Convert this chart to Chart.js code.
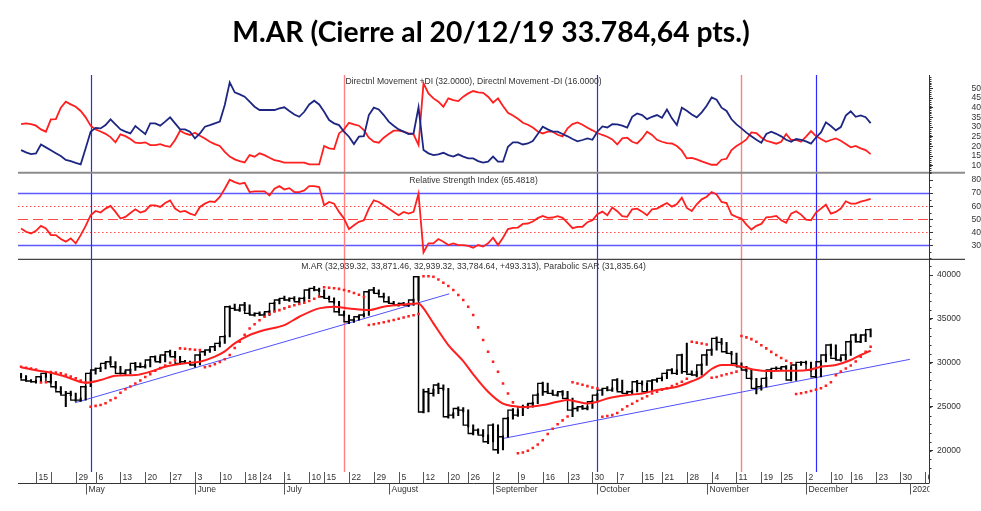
<!DOCTYPE html>
<html>
<head>
<meta charset="utf-8">
<script src="https://cdn.jsdelivr.net/npm/chart.js@4.4.1/dist/chart.umd.min.js"></script>
<style>
  html, body { margin: 0; padding: 0; background: #fff; }
</style>
</head>
<body>
<canvas id="chart" width="981" height="511"></canvas>
<script>
// Trading days on the time axis (the last ones are the empty space at the right)
const tradingMonths = [
  ['2019-04', [10, 11, 12, 15, 16, 17, 22, 23, 24, 25, 26, 29, 30]],
  ['2019-05', [2, 3, 6, 7, 8, 9, 10, 13, 14, 15, 16, 17, 20, 21, 22, 23, 24, 27, 28, 29, 30, 31]],
  ['2019-06', [3, 4, 5, 6, 7, 10, 11, 12, 13, 14, 18, 19, 21, 24, 25, 26, 27, 28]],
  ['2019-07', [1, 2, 3, 4, 5, 10, 11, 12, 15, 16, 17, 18, 19, 22, 23, 24, 25, 26, 29, 30, 31]],
  ['2019-08', [1, 2, 5, 6, 7, 8, 9, 12, 13, 14, 15, 16, 20, 21, 22, 23, 26, 27, 28, 29, 30]],
  ['2019-09', [2, 3, 4, 5, 6, 9, 10, 11, 12, 13, 16, 17, 18, 19, 20, 23, 24, 25, 26, 27, 30]],
  ['2019-10', [1, 2, 3, 4, 7, 8, 9, 10, 11, 15, 16, 17, 18, 21, 22, 23, 24, 25, 28, 29, 30, 31]],
  ['2019-11', [1, 4, 5, 6, 7, 8, 11, 12, 13, 14, 15, 19, 20, 21, 22, 25, 26, 27, 28, 29]],
  ['2019-12', [2, 3, 4, 5, 6, 10, 11, 12, 13, 16, 17, 18, 19, 20, 23, 24, 25, 26, 27, 30, 31]],
  ['2020-01', [1, 2, 3, 6]]
];

// week ticks (date, label) and month ticks
const weekTicks = [
  ['2019-04-15', '15'], ['2019-04-22', ''], ['2019-04-29', '29'], ['2019-05-06', '6'], ['2019-05-13', '13'],
  ['2019-05-20', '20'], ['2019-05-27', '27'], ['2019-06-03', '3'], ['2019-06-10', '10'], ['2019-06-18', '18'],
  ['2019-06-24', '24'], ['2019-07-01', '1'], ['2019-07-10', '10'], ['2019-07-15', '15'], ['2019-07-22', '22'],
  ['2019-07-29', '29'], ['2019-08-05', '5'], ['2019-08-12', '12'], ['2019-08-20', '20'], ['2019-08-26', '26'],
  ['2019-09-02', '2'], ['2019-09-09', '9'], ['2019-09-16', '16'], ['2019-09-23', '23'], ['2019-09-30', '30'],
  ['2019-10-07', '7'], ['2019-10-15', '15'], ['2019-10-21', '21'], ['2019-10-28', '28'], ['2019-11-04', '4'],
  ['2019-11-11', '11'], ['2019-11-19', '19'], ['2019-11-25', '25'], ['2019-12-02', '2'], ['2019-12-10', '10'],
  ['2019-12-16', '16'], ['2019-12-23', '23'], ['2019-12-30', '30'], ['2020-01-06', '6']
];
const monthTicks = [
  ['2019-05-02', 'May'], ['2019-06-03', 'June'], ['2019-07-01', 'July'], ['2019-08-01', 'August'],
  ['2019-09-02', 'September'], ['2019-10-01', 'October'], ['2019-11-01', 'November'],
  ['2019-12-02', 'December'], ['2020-01-01', '2020']
];

// daily values, one per trading day from 2019-04-10 to 2019-12-20
const closes = [
  28530, 28040, 27930, 27850, 28420, 28800, 27850, 27280, 26710, 26330,
  26520, 25760, 25760, 27280, 28800, 29180, 29370, 29940, 30130, 29560,
  28800, 28800, 29180, 29940, 29560, 29560, 30320, 30700, 30130, 30890,
  31270, 30700, 29940, 30130, 29940, 29750, 30890, 31270, 31460, 31840,
  32220, 32980, 36390, 36200, 36010, 36580, 35630, 35440, 35630, 35440,
  35820, 36770, 37150, 37340, 37150, 37340, 36960, 37340, 38290, 38480,
  38290, 37530, 37340, 36960, 35820, 35440, 34680, 34870, 35250, 35440,
  38100, 38290, 37910, 37530, 36960, 36770, 36580, 36770, 36580, 37150,
  39810, 24400, 26710, 26520, 27470, 27090, 23860, 24050, 24810, 24620,
  22910, 21960, 22340, 21770, 21020, 22910, 20100, 21580, 23670, 24620,
  24050, 25000, 25000, 25380, 26330, 27660, 26710, 26520, 26330, 26710,
  25950, 24620, 24810, 25000, 24810, 25570, 26330, 26900, 27090, 26900,
  28040, 26710, 26520, 26710, 27850, 27660, 26710, 27930, 28040, 28230,
  28800, 29180, 28800, 30890, 29000, 28700, 28610, 29750, 30890, 31460,
  32790, 32330, 31270, 31080, 29940, 29560, 29180, 28230, 27090, 27280,
  28230, 29180, 29370, 29370, 29560, 28040, 29750, 30050, 30050, 29180,
  28420, 30130, 30890, 32030, 30510, 30320, 30890, 32410, 33170, 32410,
  33170, 33785
];
const lows = [
  28300, 27900, 27800, 27700, 27850, 28350, 27700, 27100, 26500, 25000,
  26250, 25600, 25600, 25750, 27300, 28700, 29000, 29300, 29800, 29400,
  28700, 28650, 28750, 29150, 29450, 29400, 29550, 30250, 30000, 30100,
  30850, 30600, 29800, 29900, 29800, 29500, 29750, 30850, 31200, 31400,
  31800, 32200, 32950, 36000, 35850, 35950, 35500, 35300, 35400, 35300,
  35400, 35800, 36700, 37100, 37000, 37100, 36850, 36950, 37300, 38200,
  38100, 37400, 37200, 36800, 35700, 35300, 34450, 34600, 34850, 35200,
  35400, 38000, 37800, 37400, 36800, 36600, 36450, 36500, 36400, 36550,
  37100, 24300, 24400, 26200, 26500, 26900, 23700, 23700, 24000, 24400,
  22700, 21800, 21900, 21600, 20800, 21000, 19690, 20100, 21550, 23600,
  23900, 24000, 24800, 24950, 25350, 26300, 26500, 26350, 26200, 26300,
  25800, 23860, 24500, 24700, 24650, 24800, 25550, 26300, 26800, 26750,
  26900, 26600, 26400, 26500, 26700, 27500, 26600, 26700, 27800, 27950,
  28200, 28750, 28650, 28800, 28900, 28600, 28400, 28600, 29700, 30850,
  31450, 32100, 31100, 30900, 29800, 29400, 29000, 28100, 26450, 26900,
  27250, 28200, 29100, 29150, 29300, 27950, 28000, 29700, 29850, 29050,
  28300, 28400, 30100, 30850, 30400, 30200, 30300, 30850, 32350, 32300,
  32400, 32939
];
const highs = [
  28800, 28550, 28100, 28050, 28500, 28900, 28800, 27900, 27300, 26750,
  26800, 26550, 26000, 27350, 28900, 29400, 29500, 30100, 30700, 30150,
  29600, 29050, 29300, 30050, 30000, 29800, 30400, 30800, 30700, 31000,
  31460, 31300, 30750, 30300, 30200, 30000, 31000, 31400, 31600, 31950,
  32400, 33100, 36500, 36700, 36300, 36900, 36600, 35700, 35800, 35700,
  35950, 36900, 37300, 37600, 37400, 37550, 37400, 37500, 38400, 38700,
  38500, 38300, 37600, 37400, 37000, 35900, 35450, 35000, 35350, 35600,
  38200, 38600, 38300, 37950, 37550, 37000, 36800, 36900, 36800, 37250,
  39850, 27000, 27100, 27000, 27700, 27500, 27100, 24300, 25000, 24900,
  24650, 22950, 22500, 22400, 21800, 23050, 22950, 21700, 23800, 24800,
  24650, 25200, 25300, 25500, 26500, 27800, 27700, 26900, 26600, 26850,
  26750, 26000, 25000, 25150, 25050, 25700, 26500, 27050, 27300, 27150,
  28200, 28050, 26800, 26900, 28000, 27950, 27700, 28050, 28200, 28400,
  28950, 29350, 29200, 31000, 32250, 29100, 29050, 29900, 31000, 31600,
  32950, 32800, 32350, 31300, 31100, 30000, 29600, 29200, 28250, 27450,
  28350, 29300, 29550, 29500, 29700, 29550, 29850, 30150, 30200, 30100,
  29200, 30250, 31000, 32150, 32050, 30600, 31000, 32500, 33300, 33200,
  33300, 33871
];
const sar = [
  29560, 29450, 29350, 29250, 27770, 27800, 28950, 28900, 28800, 28650,
  28450, 28250, 28000, 27750, 25000, 25100, 25200, 25400, 25750, 26000,
  26600, 27000, 27300, 27650, 28000, 28400, 28700, 29100, 29400, 29700,
  30000, 30300, 31650, 31600, 31550, 31500, 31450, 29500, 29650, 29850,
  30100, 30400, 30900, 31700, 32400, 33200, 33900, 34400, 34850, 35250,
  35550, 35850, 36000, 36200, 36400, 36550, 36700, 36850, 37050, 37300,
  37550, 38600, 38560, 38500, 38420, 38300, 38150, 37950, 37750, 37500,
  34300, 34400, 34500, 34620, 34750, 34880, 35020, 35160, 35300, 35420,
  35550, 39850, 39850, 39800, 39500, 39130, 38750, 38290, 37720, 37150,
  36390, 35440, 34040, 32600, 31270, 30130, 28990, 27660, 26520, 25500,
  19700, 19800, 20000, 20300, 20700, 21200, 21900, 22500, 23000, 23450,
  23900, 27800, 27650, 27500, 27350, 27200, 27080, 23870, 23950, 24050,
  24300, 24700, 25050, 25350, 25650, 25950, 26200, 26500, 26700, 26950,
  27100, 27350, 27600, 27850, 28200, 32400, 32300, 32200, 32100, 28300,
  28400, 28550, 28700, 28850, 29000, 33050, 32900, 32700, 32400, 32000,
  31650, 31250, 30900, 30550, 30250, 29950, 26450, 26550, 26650, 26800,
  26950, 27100, 27400, 27800, 28600, 29000, 29350, 29700, 30150, 30700,
  31250, 31836
];
const plusDI = [
  18.1, 16.9, 16.0, 16.4, 21.0, 19.5, 18.0, 16.5, 15.0, 13.0,
  12.4, 11.5, 10.7, 19.0, 27.6, 29.6, 29.3, 31.0, 34.0, 31.4,
  28.8, 27.6, 26.7, 30.5, 28.4, 26.4, 31.9, 31.9, 30.7, 32.8,
  35.0, 31.9, 28.8, 28.8, 27.6, 24.1, 26.7, 30.2, 31.0, 31.9,
  32.8, 41.4, 53.1, 47.9, 46.9, 45.7, 43.1, 40.5, 38.8, 38.8,
  38.8, 38.8, 39.6, 40.2, 38.3, 36.5, 35.3, 37.9, 41.7, 43.6,
  41.7, 37.9, 33.6, 31.9, 31.0, 27.6, 25.0, 21.2, 25.0, 25.3,
  36.2, 40.0, 39.1, 36.2, 32.8, 30.7, 28.8, 27.6, 26.4, 26.7,
  40.2, 18.1, 16.4, 15.5, 15.9, 16.7, 15.5, 14.7, 15.9, 14.7,
  13.8, 13.8, 12.4, 11.6, 12.1, 14.7, 12.1, 12.1, 19.8, 22.1,
  22.1, 21.0, 21.5, 22.8, 26.4, 30.2, 28.8, 27.6, 27.6, 26.4,
  25.2, 23.8, 22.6, 23.3, 24.1, 23.4, 27.6, 30.3, 29.8, 31.5,
  31.4, 30.7, 29.7, 35.3, 37.0, 36.2, 34.1, 35.3, 36.2, 34.8,
  39.1, 34.5, 31.0, 40.0, 38.4, 36.5, 35.0, 37.6, 41.0, 45.3,
  44.1, 40.0, 38.3, 34.0, 31.4, 29.3, 27.1, 25.2, 23.4, 21.9,
  26.4, 27.6, 26.5, 25.2, 23.4, 22.4, 23.8, 23.4, 22.6, 21.4,
  24.6, 27.2, 32.4, 30.5, 28.3, 30.0, 35.9, 38.1, 35.3, 36.0,
  35.1, 32.0
];
const minusDI = [
  31.5, 31.9, 31.5, 30.7, 28.8, 27.6, 34.0, 34.1, 40.0, 43.1,
  41.7, 40.5, 38.3, 35.0, 30.7, 28.8, 27.7, 26.5, 24.8, 22.1,
  26.2, 25.3, 23.8, 21.9, 21.7, 22.1, 20.7, 20.7, 21.2, 20.3,
  19.8, 23.3, 28.1, 26.7, 25.9, 27.1, 25.5, 24.1, 22.4, 21.2,
  20.2, 17.2, 14.7, 13.3, 12.4, 11.7, 15.5, 14.7, 16.4, 15.5,
  14.1, 12.9, 12.4, 11.6, 11.6, 11.6, 11.6, 11.6, 10.7, 10.7,
  10.7, 20.2, 19.0, 18.6, 26.7, 28.8, 32.2, 31.4, 30.7, 28.4,
  24.5, 22.4, 21.9, 24.5, 26.4, 28.1, 28.1, 27.6, 26.7, 26.2,
  20.7, 52.6, 47.4, 44.8, 43.1, 40.5, 44.8, 43.9, 43.4, 45.7,
  47.4, 48.6, 47.9, 47.7, 45.7, 42.6, 44.8, 40.9, 37.4, 36.0,
  34.3, 32.2, 31.2, 29.8, 27.7, 26.7, 27.6, 27.6, 26.0, 25.2,
  29.3, 31.5, 32.4, 31.2, 29.6, 28.3, 26.9, 25.9, 25.0, 23.6,
  21.0, 24.1, 24.5, 22.4, 21.5, 24.1, 27.6, 25.9, 23.4, 22.4,
  21.7, 21.5, 20.2, 17.8, 13.8, 14.1, 13.3, 12.3, 11.4, 10.5,
  10.5, 13.1, 13.6, 18.1, 20.2, 21.7, 23.6, 27.2, 26.9, 24.6,
  22.9, 22.2, 21.4, 22.4, 26.4, 23.3, 23.4, 22.4, 25.0, 27.9,
  25.3, 23.8, 22.4, 23.3, 24.1, 22.9, 21.2, 19.5, 20.2, 19.0,
  18.1, 16.0
];
const rsi = [
  42.9, 40.4, 39.1, 41.1, 44.9, 42.9, 37.8, 37.8, 34.8, 32.8,
  35.3, 31.5, 37.8, 44.9, 53.0, 56.3, 55.1, 58.1, 60.1, 55.6,
  50.5, 51.8, 54.8, 57.6, 55.1, 56.3, 60.6, 60.6, 59.4, 62.4,
  64.4, 58.1, 55.6, 56.3, 54.3, 53.0, 59.4, 61.9, 63.7, 63.2,
  67.0, 73.3, 80.2, 78.4, 77.1, 77.9, 70.8, 71.3, 71.3, 71.3,
  68.2, 73.3, 75.3, 72.8, 73.8, 70.8, 70.8, 72.0, 75.3, 75.3,
  74.6, 60.6, 63.2, 61.9, 55.6, 50.5, 42.4, 45.4, 48.0, 49.2,
  58.1, 64.4, 63.2, 60.6, 58.1, 55.6, 53.0, 55.6, 54.3, 55.6,
  69.5, 24.6, 31.5, 31.5, 34.8, 32.8, 30.2, 31.5, 30.2, 30.2,
  29.5, 28.2, 30.2, 29.0, 31.5, 35.8, 30.2, 35.8, 42.4, 43.4,
  43.6, 46.4, 46.7, 48.2, 50.8, 52.5, 51.0, 51.3, 52.3, 51.0,
  47.2, 43.1, 44.2, 44.2, 47.7, 49.2, 53.8, 55.8, 53.0, 58.9,
  56.1, 52.3, 51.8, 57.6, 58.1, 55.8, 53.0, 57.6, 58.1, 60.4,
  62.4, 59.6, 61.6, 66.5, 58.6, 56.3, 61.4, 65.2, 67.2, 70.8,
  69.0, 63.2, 62.4, 53.5, 51.8, 50.5, 45.9, 42.1, 44.9, 46.4,
  51.5, 51.8, 52.5, 49.2, 47.2, 54.3, 56.1, 53.5, 49.7, 49.2,
  55.1, 58.1, 61.1, 54.3, 55.6, 58.1, 63.7, 61.9, 61.9, 63.4,
  64.4, 65.5
];

// moving average, read at a number of trading days (day number, value)
const maDays = [0, 3, 6, 9, 13, 16, 19, 23, 26, 29, 33, 36, 39, 41, 43, 46, 49, 53, 56, 60,
  63, 66, 70, 73, 76, 80, 81, 83, 86, 89, 91, 94, 97, 99, 101, 105, 108, 110, 112, 114,
  116, 118, 122, 125, 128, 132, 135, 137, 139, 141, 143, 145, 148, 150, 153, 156, 159, 161, 164, 167,
  169, 171];
const maValues = [29500, 29150, 28880, 28420, 27740, 28040, 28530, 28610, 28990, 29560, 29940, 30130, 30700, 31300, 32220, 33170, 33740, 34300, 35250, 36200,
  36390, 36200, 36010, 36390, 36580, 36770, 36200, 34500, 32030, 30200, 28700, 26710, 25350, 25080, 24950, 25190, 25570, 25760, 25570, 25380,
  25570, 25950, 26330, 26520, 26900, 27280, 27900, 28400, 29300, 29750, 29750, 29560, 29180, 29065, 29100, 29100, 29255, 29560, 29750, 30320,
  30890, 31380];

// trend lines: [day number, value] at each end
const trendLines = [
  [[10.85, 25455], [86.2, 37860]],
  [[97.1, 21400], [178.9, 30398]]
];

// vertical event markers
const markerDates = ['2019-05-03', '2019-07-19', '2019-10-01', '2019-11-12', '2019-12-04'];
const markerKinds = ['blue', 'red', 'blue', 'red', 'blue'];

const rsiLevels = [70, 60, 50, 40, 30];
const dmiTicks = [10, 15, 20, 25, 30, 35, 40, 45, 50];
const rsiTicks = [30, 40, 50, 60, 70, 80];
const priceTicks = [20000, 25000, 30000, 35000, 40000];

const titleText = 'M.AR (Cierre al 20/12/19 33.784,64 pts.)';
const dmiTitle = 'Directnl Movement +DI (32.0000), Directnl Movement -DI (16.0000)';
const rsiTitle = 'Relative Strength Index (65.4818)';
const priceTitle = 'M.AR (32,939.32, 33,871.46, 32,939.32, 33,784.64, +493.313), Parabolic SAR (31,835.64)';

// ---------------------------------------------------------------

const days = [];
tradingMonths.forEach(([ym, list]) => list.forEach(d => days.push(ym + '-' + String(d).padStart(2, '0'))));
const dayIndex = date => days.indexOf(date);

const xy = arr => arr.map((v, i) => ({ x: i, y: v }));
const SMALL_FONT = '8.6px "Liberation Sans", Arial, sans-serif';
const RED = '#ff1f1f';

function seg(ctx, x1, y1, x2, y2) {
  ctx.beginPath();
  ctx.moveTo(x1, y1);
  ctx.lineTo(x2, y2);
  ctx.stroke();
}

const decor = {
  id: 'decor',
  beforeDatasetsDraw(chart) {
    const { ctx, chartArea: area, scales } = chart;
    ctx.save();
    // RSI reference levels
    rsiLevels.forEach(v => {
      const y = Math.round(scales.yRsi.getPixelForValue(v)) + 0.5;
      if (v === 70 || v === 30) {
        ctx.strokeStyle = '#5a5aff'; ctx.lineWidth = 1.3; ctx.setLineDash([]);
      } else if (v === 50) {
        ctx.strokeStyle = '#ff4a4a'; ctx.lineWidth = 1; ctx.setLineDash([10, 5]);
      } else {
        ctx.strokeStyle = '#ff4a4a'; ctx.lineWidth = 1; ctx.setLineDash([1.5, 2.5]);
      }
      seg(ctx, area.left, y, area.right, y);
    });
    ctx.setLineDash([]);
    // event markers
    markerDates.forEach((d, k) => {
      const px = Math.round(scales.x.getPixelForValue(dayIndex(d))) + 0.5;
      ctx.strokeStyle = markerKinds[k] === 'red' ? '#ff8080' : '#2a2aff';
      ctx.lineWidth = markerKinds[k] === 'red' ? 1.4 : 1.2;
      seg(ctx, px, area.top, px, area.bottom);
    });
    ctx.restore();
  },
  afterDraw(chart) {
    const { ctx, chartArea: area, scales } = chart;
    const { x, yDmi, yRsi, yPrice } = scales;
    const axisY = area.bottom + 11.5;
    ctx.save();

    // panel separators
    ctx.strokeStyle = '#8c8c8c'; ctx.lineWidth = 2;
    seg(ctx, area.left, yRsi.top, 965, yRsi.top);
    ctx.strokeStyle = '#444'; ctx.lineWidth = 1.2;
    seg(ctx, area.left, yPrice.top, 965, yPrice.top);
    // right axis line and bottom time axis
    ctx.strokeStyle = '#333'; ctx.lineWidth = 1;
    seg(ctx, area.right + 0.5, area.top, area.right + 0.5, axisY);
    seg(ctx, area.left, axisY, area.right, axisY);

    // minor ticks on the right axis
    const minor = (scale, from, to, step) => {
      for (let v = from; v <= to; v += step) {
        const y = Math.round(scale.getPixelForValue(v)) + 0.5;
        seg(ctx, area.right, y, area.right + 2.5, y);
      }
    };
    minor(yDmi, 7, 56, 1);
    minor(yRsi, 20, 85, 5);
    minor(yPrice, 18000, 41000, 1000);

    // panel captions
    ctx.fillStyle = '#333';
    ctx.font = SMALL_FONT;
    ctx.textAlign = 'center';
    ctx.textBaseline = 'middle';
    const cx = (area.left + area.right) / 2;
    ctx.fillText(dmiTitle, cx, yDmi.top + 7);
    ctx.fillText(rsiTitle, cx, yRsi.top + 7.5);
    ctx.fillText(priceTitle, cx, yPrice.top + 7.5);

    // time axis labels (clipped at the right axis)
    ctx.save();
    ctx.beginPath();
    ctx.rect(0, 0, area.right + 0.5, chart.height);
    ctx.clip();
    ctx.textAlign = 'left';
    ctx.strokeStyle = '#555';
    weekTicks.forEach(([date, label]) => {
      const px = Math.round(x.getPixelForValue(dayIndex(date))) + 0.5;
      seg(ctx, px, area.bottom, px, axisY);
      ctx.fillText(label, px + 2, area.bottom + 6);
    });
    monthTicks.forEach(([date, label]) => {
      const px = Math.round(x.getPixelForValue(dayIndex(date))) + 0.5;
      seg(ctx, px, axisY, px, axisY + 11);
      ctx.fillText(label, px + 2, axisY + 6.5);
    });
    ctx.restore();

    // main title, sized to the width of the original
    ctx.font = 'bold 100px Lato, sans-serif';
    const size = 100 * 518 / ctx.measureText(titleText).width;
    ctx.font = 'bold ' + size.toFixed(1) + 'px Lato, sans-serif';
    ctx.fillStyle = '#000';
    ctx.textAlign = 'center';
    ctx.fillText(titleText, 491, 33);
    ctx.restore();
  }
};

const axisFont = { family: '"Liberation Sans", Arial', size: 8.6 };
const rightAxis = (opts) => Object.assign({
  type: 'linear',
  position: 'right',
  stack: 'panels',
  border: { display: false },
  grid: { drawOnChartArea: false, drawTicks: true, tickLength: 4, color: '#333' },
  afterFit: scale => { scale.width = 52; }
}, opts);

new Chart(document.getElementById('chart'), {
  type: 'line',
  data: {
    datasets: [
      {
        label: 'Parabolic SAR', data: xy(sar), yAxisID: 'yPrice', showLine: false,
        pointStyle: 'rect', pointRadius: 1.8, pointBackgroundColor: RED, pointBorderWidth: 0
      },
      {
        label: 'Media', data: maDays.map((d, k) => ({ x: d, y: maValues[k] })), yAxisID: 'yPrice',
        borderColor: RED, borderWidth: 2, pointRadius: 0, cubicInterpolationMode: 'monotone'
      },
      {
        label: 'Cierre', data: xy(closes), yAxisID: 'yPrice', stepped: 'after',
        borderColor: '#000', borderWidth: 1.4, pointRadius: 0
      },
      {
        type: 'bar', label: 'Rango', data: lows.map((l, i) => ({ x: i, y: [l, highs[i]] })), yAxisID: 'yPrice',
        backgroundColor: '#000', barThickness: 1.4, borderWidth: 0
      },
      ...trendLines.map((t, k) => ({
        label: 'Tendencia ' + (k + 1), data: t.map(([d, v]) => ({ x: d, y: v })), yAxisID: 'yPrice',
        borderColor: '#5050ff', borderWidth: 1, pointRadius: 0
      })),
      {
        label: '+DI', data: xy(plusDI), yAxisID: 'yDmi',
        borderColor: '#1d2682', borderWidth: 1.8, pointRadius: 0
      },
      {
        label: '-DI', data: xy(minusDI), yAxisID: 'yDmi',
        borderColor: RED, borderWidth: 1.8, pointRadius: 0
      },
      {
        label: 'RSI', data: xy(rsi), yAxisID: 'yRsi',
        borderColor: RED, borderWidth: 1.8, pointRadius: 0
      }
    ]
  },
  options: {
    responsive: false,
    animation: false,
    events: [],
    layout: { padding: { left: 18, right: 0, top: 75, bottom: 39 } },
    plugins: { legend: { display: false }, tooltip: { enabled: false }, title: { display: false } },
    scales: {
      x: { type: 'linear', min: -0.62, max: 182.75, offset: false, grid: { offset: false }, display: false },
      yDmi: rightAxis({
        stackWeight: 97.7, min: 6.4, max: 56.9,
        afterBuildTicks: s => { s.ticks = dmiTicks.map(v => ({ value: v })); },
        ticks: { autoSkip: false, crossAlign: 'far', padding: 24, color: '#333', font: axisFont }
      }),
      yRsi: rightAxis({
        stackWeight: 86.6, min: 19.3, max: 85.6,
        afterBuildTicks: s => { s.ticks = rsiTicks.map(v => ({ value: v })); },
        ticks: { autoSkip: false, crossAlign: 'far', padding: 24, color: '#333', font: axisFont }
      }),
      yPrice: rightAxis({
        stackWeight: 212.7, min: 17574, max: 41788, beginAtZero: false,
        afterBuildTicks: s => { s.ticks = priceTicks.map(v => ({ value: v })); },
        ticks: { autoSkip: false, crossAlign: 'near', padding: 4, color: '#333', font: axisFont,
          callback: v => String(v) }
      })
    }
  },
  plugins: [decor]
});
</script>
</body>
</html>
